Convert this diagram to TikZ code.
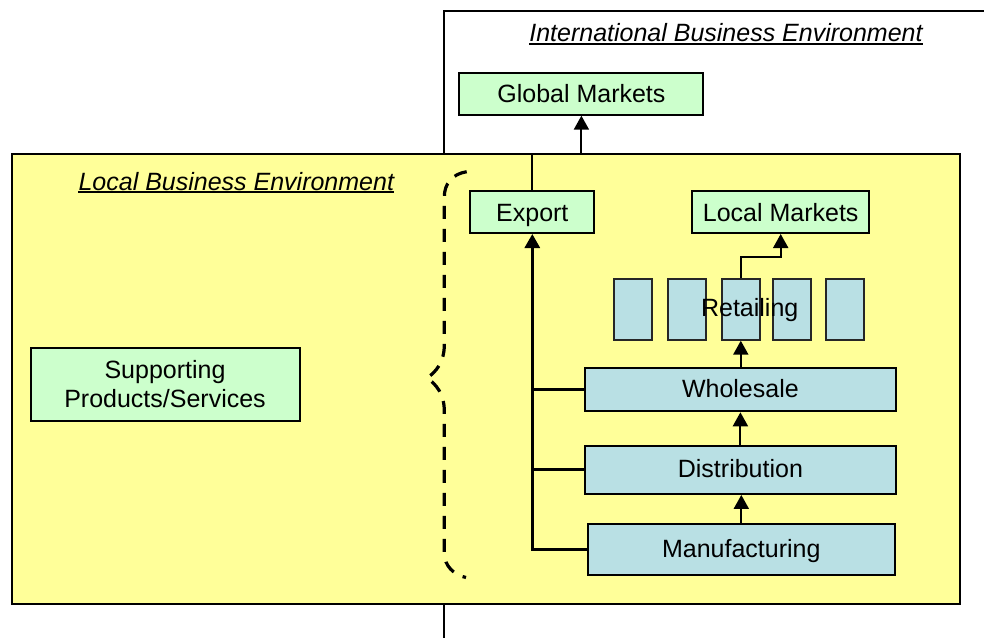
\documentclass[tikz,border=0pt]{standalone}
\usepackage{fontspec}
\setmainfont{Liberation Sans}
\usetikzlibrary{arrows.meta}
\definecolor{envyellow}{RGB}{255,255,153}
\definecolor{mktgreen}{RGB}{204,255,204}
\definecolor{chainblue}{RGB}{185,224,228}
\tikzset{
  greenbox/.style={draw=black, line width=2pt, fill=mktgreen, inner sep=0pt},
  bluebox/.style={draw=black, line width=2pt, fill=chainblue, inner sep=0pt,
    text height=18pt, text depth=3pt},
  oneline/.style={text height=18pt, text depth=0pt},
  stall/.style={draw=black!85, line width=2pt, fill=chainblue, inner sep=0pt,
    minimum width=38pt, minimum height=61pt},
  envtitle/.style={inner sep=0pt, anchor=base, font=\fontsize{25}{30}\selectfont\itshape},
  arr/.style={line width=2pt, -{Triangle[width=15pt,length=14pt]}},
  spine/.style={line width=3pt},
  brace/.style={line width=3.2pt, dash pattern=on 13pt off 10pt},
}
\begin{document}
\begin{tikzpicture}[x=1pt, y=-1pt, font=\fontsize{25}{30}\selectfont]
  \useasboundingbox (0,0) rectangle (984,637);
  \clip (0,0) rectangle (984,637);
  % environments
  \draw[line width=1.5pt, fill=white] (444,11) rectangle (1000,660);
  \node[envtitle] (intl) at (726,41.7) {International Business Environment};
  \draw[line width=1.6pt] ([yshift=-2pt]intl.base west) -- ([yshift=-2pt]intl.base east);
  \draw[line width=2pt, fill=envyellow] (12,154) rectangle (960,604);
  \node[envtitle] (loc) at (236.3,190) {Local Business Environment};
  \draw[line width=1.6pt] ([yshift=-2pt]loc.base west) -- ([yshift=-2pt]loc.base east);

  % markets
  \node[greenbox, oneline, minimum width=244pt, minimum height=42pt] (global) at (581.4,93.7) {Global Markets};
  \node[greenbox, oneline, minimum width=124pt, minimum height=42pt] (export) at (532.3,212) {Export};
  \node[greenbox, oneline, minimum width=177pt, minimum height=42pt] (locmkt) at (780.7,212) {Local Markets};
  \node[greenbox, minimum width=269pt, minimum height=73pt, align=center,
    font=\fontsize{25}{28.5}\selectfont] (supp) at (165,384.2) {Supporting\\Products/Services};

  % supply chain
  \node[bluebox, minimum width=311.6pt, minimum height=43.6pt] (whole) at (740.4,389.5) {Wholesale};
  \node[bluebox, minimum width=311.6pt, minimum height=48.3pt] (dist) at (740.4,469.8) {Distribution};
  \node[bluebox, minimum width=307.4pt, minimum height=50.7pt] (manu) at (741.3,549.7) {Manufacturing};
  \foreach \x [count=\i] in {633.4,687,740.8,791.5,845}
    \node[stall] (r\i) at (\x,309.2) {};
  \node[oneline] (retail) at (749.7,307) {Retailing};

  % connectors
  \coordinate (gbend) at (581.4,153.5);
  \draw[arr] (export.north) |- (gbend) -- (global.south);
  \coordinate (lbend) at (780.7,256.7);
  \draw[arr] (r3.north) |- (lbend) -- (locmkt.south);
  \draw[arr] (whole.north -| r3.south) -- (r3.south);
  \draw[arr] (dist.north) -- (whole.south);
  \draw[arr] (manu.north) -- (manu.north |- dist.south);
  \draw[spine, -{Triangle[width=15pt,length=14pt]}] (manu.west) -| (export.south);
  \draw[spine] (whole.west) -- (whole.west -| export.south);
  \draw[spine] (dist.west) -- (dist.west -| export.south);

  % brace
  \draw[brace] (466.7,171.7) .. controls (452,174) and (444.3,184) .. (444.3,197)
    -- (444.3,345) .. controls (444.3,362) and (436,372) .. (427,378)
    .. controls (436,384) and (444.3,394) .. (444.3,411)
    -- (444.3,553) .. controls (444.3,566) and (454,575) .. (466,577.5);
\end{tikzpicture}
\end{document}
